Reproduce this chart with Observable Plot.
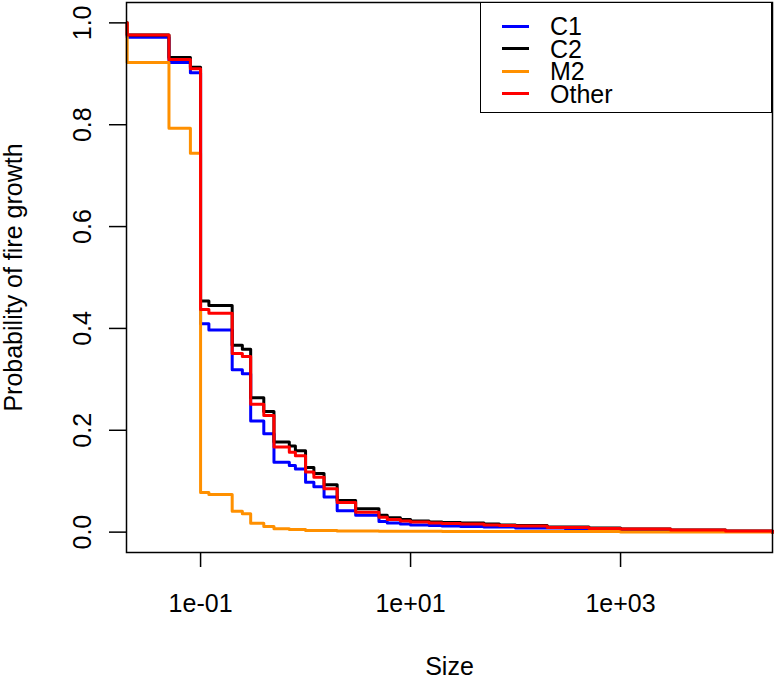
<!DOCTYPE html>
<html>
<head>
<meta charset="utf-8">
<script src="https://cdn.jsdelivr.net/npm/d3@7"></script>
<script src="https://cdn.jsdelivr.net/npm/@observablehq/plot@0.6"></script>
<style>
  html, body { margin: 0; padding: 0; background: #fff; }
  #wrap { position: relative; width: 777px; height: 680px; font-family: "Liberation Sans", Arial, Helvetica, sans-serif; }
  #legend { position: absolute; left: 480px; top: 2px; width: 290px; height: 109px; border: 1.5px solid #000; background: #fff; box-sizing: content-box; }
  .item { position: absolute; left: 0; height: 22px; line-height: 20px; display: flex; align-items: center; font-size: 25px; color: #000; }
  .sw { display: inline-block; width: 27px; height: 3px; margin-left: 21px; margin-right: 21px; }
</style>
</head>
<body>
<div id="wrap"></div>
<script>
// ---- data ----
const seriesNames = ["C1", "C2", "M2", "Other"];
const seriesColors = ["#0000ff", "#000000", "#ff9000", "#ff0000"];

const C1_size = [0.02, 0.02, 0.05, 0.08, 0.1, 0.12, 0.2, 0.25, 0.3, 0.4, 0.5, 0.7, 0.8, 1, 1.2, 1.5, 2, 3, 5, 6, 8, 10, 15, 20, 30, 50, 100, 300, 1000, 5000, 28000];
const C1_prob = [1.0, 0.972, 0.922, 0.902, 0.409, 0.397, 0.319, 0.311, 0.218, 0.193, 0.137, 0.131, 0.124, 0.098, 0.089, 0.069, 0.042, 0.033, 0.021, 0.018, 0.016, 0.014, 0.013, 0.012, 0.011, 0.010, 0.008, 0.005, 0.003, 0.001, 0];

const C2_size = [0.02, 0.02, 0.05, 0.08, 0.1, 0.12, 0.2, 0.25, 0.3, 0.4, 0.5, 0.7, 0.8, 1, 1.2, 1.5, 2, 3, 5, 6, 8, 10, 15, 20, 30, 50, 70, 100, 200, 500, 1000, 3000, 10000, 28000];
const C2_prob = [1.0, 0.976, 0.932, 0.913, 0.454, 0.445, 0.367, 0.359, 0.264, 0.237, 0.177, 0.169, 0.160, 0.127, 0.115, 0.093, 0.062, 0.046, 0.033, 0.028, 0.025, 0.022, 0.020, 0.019, 0.018, 0.016, 0.014, 0.013, 0.010, 0.008, 0.006, 0.004, 0.002, 0];

const M2_size = [0.02, 0.02, 0.05, 0.08, 0.1, 0.12, 0.2, 0.25, 0.3, 0.4, 0.5, 0.7, 1, 2, 5, 20, 1000, 28000];
const M2_prob = [1.0, 0.922, 0.793, 0.744, 0.078, 0.074, 0.041, 0.036, 0.0175, 0.011, 0.0065, 0.005, 0.003, 0.002, 0.0015, 0.001, 0.0005, 0];

const Other_size = [0.02, 0.02, 0.05, 0.08, 0.1, 0.12, 0.2, 0.25, 0.3, 0.4, 0.5, 0.7, 0.8, 1, 1.2, 1.5, 2, 3, 5, 6, 8, 10, 15, 20, 30, 50, 70, 100, 200, 500, 1000, 3000, 10000, 28000];
const Other_prob = [1.0, 0.976, 0.928, 0.910, 0.437, 0.430, 0.351, 0.345, 0.251, 0.229, 0.167, 0.157, 0.150, 0.118, 0.108, 0.085, 0.058, 0.039, 0.029, 0.025, 0.022, 0.020, 0.018, 0.017, 0.016, 0.014, 0.013, 0.012, 0.009, 0.007, 0.006, 0.004, 0.002, 0];

const xTicks = [0.1, 10, 1000];
const xTickLabels = ["1e-01", "1e+01", "1e+03"];
const yTicks = [0, 0.2, 0.4, 0.6, 0.8, 1.0];
const yTickLabels = ["0.0", "0.2", "0.4", "0.6", "0.8", "1.0"];
const xTitle = "Size";
const yTitle = "Probability of fire growth";

// ---- build rows ----
const sizes = [C1_size, C2_size, M2_size, Other_size];
const probs = [C1_prob, C2_prob, M2_prob, Other_prob];
const rows = [];
seriesNames.forEach((s, k) => {
  sizes[k].forEach((x, i) => rows.push({series: s, size: x, prob: probs[k][i]}));
});

const font = "25px";
const chart = Plot.plot({
  width: 777,
  height: 680,
  marginLeft: 126,
  marginRight: 5,
  marginTop: 2,
  marginBottom: 128,
  style: {fontFamily: '"Liberation Sans", Arial, Helvetica, sans-serif', background: "#fff", color: "#000"},
  x: {type: "log", domain: [0.0197, 28000]},
  y: {domain: [-0.04, 1.04]},
  color: {domain: seriesNames, range: seriesColors},
  marks: [
    Plot.line(rows, {x: "size", y: "prob", z: "series", stroke: "series", curve: "step-after", strokeWidth: 3}),
    Plot.frame({stroke: "#000", strokeWidth: 1.5}),
    Plot.axisX({ticks: xTicks, tickFormat: (d) => xTickLabels[xTicks.indexOf(d)], tickSize: 15, tickPadding: 27, fontSize: font, label: null, stroke: "#000", strokeWidth: 1.5}),
    Plot.axisY({ticks: yTicks, tickFormat: () => "", tickSize: 17, label: null, stroke: "#000", strokeWidth: 1.5}),
    Plot.text(yTicks, {y: (d) => d, text: (d, i) => yTickLabels[i], frameAnchor: "left", rotate: -90, dx: -44, fontSize: font, lineAnchor: "middle", textAnchor: "middle"}),
    Plot.text([xTitle], {text: (d) => d, frameAnchor: "bottom", dy: 114, fontSize: font, lineAnchor: "middle"}),
    Plot.text([yTitle], {text: (d) => d, frameAnchor: "left", rotate: -90, dx: -113, fontSize: font, lineAnchor: "middle", textAnchor: "middle"})
  ]
});

const wrap = document.getElementById("wrap");
wrap.appendChild(chart);

// legend
const legend = document.createElement("div");
legend.id = "legend";
seriesNames.forEach((s, k) => {
  const it = document.createElement("div");
  it.className = "item";
  it.style.top = (12 + k * 22.5) + "px";
  const sw = document.createElement("span");
  sw.className = "sw";
  sw.style.background = seriesColors[k];
  const tx = document.createElement("span");
  tx.textContent = s;
  it.appendChild(sw);
  it.appendChild(tx);
  legend.appendChild(it);
});
wrap.appendChild(legend);
</script>
</body>
</html>
